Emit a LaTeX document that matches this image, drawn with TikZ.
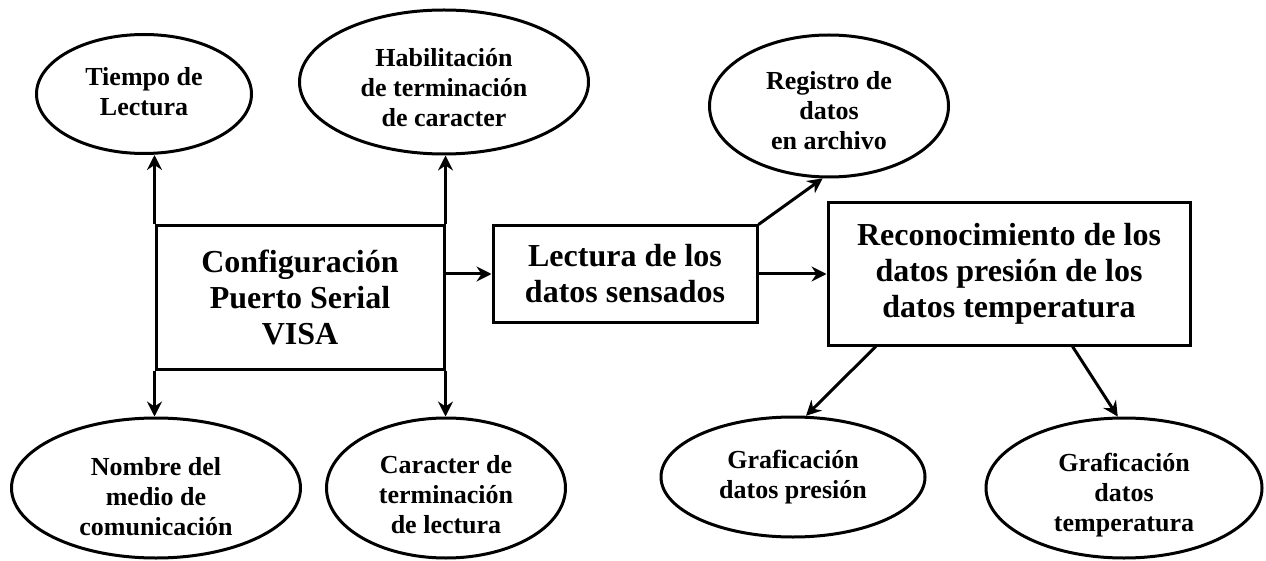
\documentclass[tikz,border=0pt]{standalone}
\usepackage{fontspec}
\setmainfont{Liberation Serif}
\usetikzlibrary{arrows.meta,calc,shapes.geometric}
\begin{document}
\begin{tikzpicture}[x=1pt,y=-1pt,
  ell/.style={draw, line width=3pt, ellipse, inner sep=0pt},
  etxt/.style={font=\fontsize{26}{30}\selectfont\bfseries, align=center, inner sep=0pt},
  boxn/.style={draw, line width=3pt, rectangle, inner sep=0pt, font=\fontsize{32}{36}\selectfont\bfseries, align=center},
  arr/.style={line width=3pt, -{Stealth[length=15pt,width=15pt,inset=5pt]}}]
\useasboundingbox (0,0) rectangle (1266,561);

% boxes
\node[boxn, minimum width=288pt, minimum height=143pt] (cfg) at (300,297.5) {Configuración\\Puerto Serial\\VISA};
\node[boxn, minimum width=264pt, minimum height=96pt] (lect) at (625,274) {Lectura de los\\datos sensados};
\node[boxn, minimum width=362pt, minimum height=142pt] (recon) at (1009,274) {Reconocimiento de los\\datos presión de los\\datos temperatura};

% ellipses
\node[ell, minimum width=215pt, minimum height=119pt] (tiempo) at (144,94) {};
\node[etxt] (tiempo-t) at (144,92) {Tiempo de\\Lectura};
\node[ell, minimum width=289pt, minimum height=144pt] (habil) at (444,82) {};
\node[etxt] (habil-t) at (444,88) {Habilitación\\de terminación\\de caracter};
\node[ell, minimum width=239pt, minimum height=142pt] (reg) at (829,106) {};
\node[etxt] (reg-t) at (829,111) {Registro de\\datos\\en archivo};
\node[ell, minimum width=289pt, minimum height=140pt] (nombre) at (156,488) {};
\node[etxt] (nombre-t) at (156,497) {Nombre del\\medio de\\comunicación};
\node[ell, minimum width=239pt, minimum height=140pt] (caract) at (446,488) {};
\node[etxt] (caract-t) at (446,495) {Caracter de\\terminación\\de lectura};
\node[ell, minimum width=264pt, minimum height=120pt] (gpres) at (793,477) {};
\node[etxt] (gpres-t) at (793,477) {Graficación\\datos presión};
\node[ell, minimum width=276pt, minimum height=140pt] (gtemp) at (1124,488) {};
\node[etxt] (gtemp-t) at (1124,495) {Graficación\\datos\\temperatura};

% connectors
\draw[arr] (cfg.north west) -- (cfg.north west |- tiempo.south);
\draw[arr] (cfg.north east) -- (cfg.north east |- habil.south);
\draw[arr] (cfg.south west) -- (cfg.south west |- nombre.north);
\draw[arr] (cfg.south east) -- (cfg.south east |- caract.north);
\draw[arr] (cfg.east |- lect.west) -- (lect.west);
\draw[arr] (lect.east) -- (recon.west);
\draw[arr] (lect.north east) -- (reg.265);
\draw[arr] ($(recon.south west)!0.135!(recon.south east)$) -- (gpres.78);
\draw[arr] ($(recon.south west)!0.674!(recon.south east)$) -- (gtemp.95);
\end{tikzpicture}
\end{document}
